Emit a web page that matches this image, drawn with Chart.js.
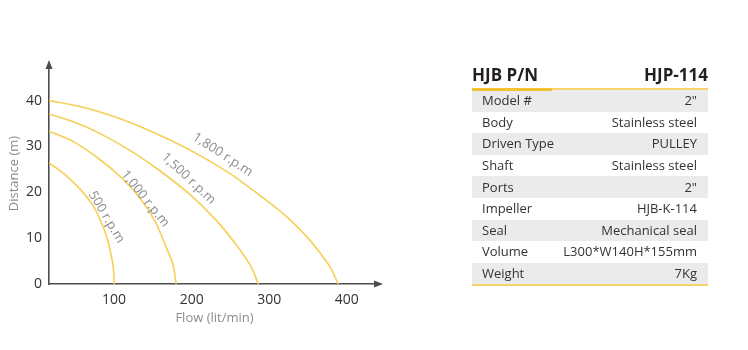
<!DOCTYPE html>
<html>
<head>
<meta charset="utf-8">
<title>HJB P/N HJP-114</title>
<script src="https://cdn.jsdelivr.net/npm/chart.js@4/dist/chart.umd.min.js"></script>
<style>
  html, body {
    margin: 0;
    padding: 0;
    background: #fff;
  }
  .page {
    position: relative;
    width: 748px;
    height: 350px;
    overflow: hidden;
    font-family: 'Open Sans', sans-serif;
  }
  #pumpChart {
    position: absolute;
    left: 0;
    top: 0;
  }
  .spec {
    position: absolute;
    left: 472px;
    top: 62px;
    width: 236px;
    color: #333;
  }
  .spec__head {
    position: relative;
    height: 26px;
    border-bottom: 2px solid #f6d36b;
    font-weight: 700;
    font-size: 17px;
    color: #231f20;
    line-height: 26px;
  }
  .spec__head::after {
    content: '';
    position: absolute;
    left: 0;
    bottom: -3px;
    width: 80px;
    height: 3px;
    background: #f2c230;
  }
  .spec__head span:last-child {
    position: absolute;
    right: 0;
    top: 0;
  }
  .spec table {
    width: 236px;
    border-collapse: collapse;
    border-bottom: 2px solid #f6d36b;
  }
  .spec td {
    height: 21.6px;
    padding: 0;
    font-size: 13px;
    line-height: 21px;
    white-space: nowrap;
  }
  .spec td:first-child {
    padding-left: 10px;
  }
  .spec td:last-child {
    text-align: right;
    padding-right: 11px;
  }
  .spec tr:nth-child(odd) td {
    background: #ebebeb;
  }
</style>
</head>
<body>
<div class="page">
  <canvas id="pumpChart" width="748" height="350"></canvas>
  <div class="spec">
    <div class="spec__head"><span>HJB P/N</span><span>HJP-114</span></div>
    <table><tbody id="specRows"></tbody></table>
  </div>
</div>

<script>
// flow (lit/min) against distance (m) for each pump speed
const flow1800 = [16, 56, 95, 134, 172, 211, 250, 288, 321, 347, 366, 380, 389];
const head1800 = [40, 38.7, 36.8, 34.3, 31.4, 28.0, 24.0, 19.3, 14.9, 10.6, 6.7, 3.3, 0];

const flow1500 = [16, 50, 82, 121, 159, 198, 230, 256, 276, 286];
const head1500 = [37.1, 35.2, 32.8, 29.1, 24.7, 19.5, 14.2, 8.9, 4.0, 0];

const flow1000 = [16, 47, 82, 108, 134, 153, 167, 176, 180];
const head1000 = [33.3, 31.1, 27.1, 23.4, 18.6, 13.6, 8.1, 4.2, 0];

const flow500 = [16, 37, 56, 72, 83, 91, 96, 99, 100];
const head500 = [26.4, 23.8, 20.7, 17.3, 13.6, 10.0, 6.4, 3.6, 0];

const speedNames = ['1,800 r.p.m', '1,500 r.p.m', '1,000 r.p.m', '500 r.p.m'];

const flowTicks = [100, 200, 300, 400];
const headTicks = [0, 10, 20, 30, 40];

const specNames = ['Model #', 'Body', 'Driven Type', 'Shaft', 'Ports', 'Impeller', 'Seal', 'Volume', 'Weight'];
const specValues = ['2"', 'Stainless steel', 'PULLEY', 'Stainless steel', '2"', 'HJB-K-114', 'Mechanical seal', 'L300*W140H*155mm', '7Kg'];

const select = {
  chartCanvas: '#pumpChart',
  specRows: '#specRows',
};

const colors = {
  curve: '#f6cf55',
  axis: '#4d4d4d',
  tick: '#333333',
  caption: '#8c8c8c',
};

// where the speed captions sit along each curve (data units) and their slant
const captionPlaces = [
  { x: 240, y: 28.2, angle: 33 },
  { x: 196, y: 23.0, angle: 43 },
  { x: 140, y: 18.6, angle: 51 },
  { x: 90, y: 14.6, angle: 59 },
];

function toPoints(xs, ys) {
  return xs.map((x, i) => ({ x: x, y: ys[i] }));
}

// axis arrows and the rotated r.p.m captions
const chartDecor = {
  id: 'chartDecor',
  afterDraw: function(chart) {
    const ctx = chart.ctx;
    const area = chart.chartArea;
    const xScale = chart.scales.x;
    const yScale = chart.scales.y;

    ctx.save();
    ctx.fillStyle = colors.axis;
    ctx.beginPath();
    ctx.moveTo(area.left, area.top - 3);
    ctx.lineTo(area.left - 3.5, area.top + 6);
    ctx.lineTo(area.left + 3.5, area.top + 6);
    ctx.closePath();
    ctx.fill();

    ctx.beginPath();
    ctx.moveTo(area.right + 3, area.bottom);
    ctx.lineTo(area.right - 6, area.bottom - 3.5);
    ctx.lineTo(area.right - 6, area.bottom + 3.5);
    ctx.closePath();
    ctx.fill();

    ctx.fillStyle = colors.caption;
    ctx.font = "13px 'Open Sans', sans-serif";
    ctx.textAlign = 'center';
    ctx.textBaseline = 'middle';
    captionPlaces.forEach(function(place, i) {
      ctx.save();
      ctx.translate(xScale.getPixelForValue(place.x), yScale.getPixelForValue(place.y));
      ctx.rotate(place.angle * Math.PI / 180);
      ctx.fillText(speedNames[i], 0, 0);
      ctx.restore();
    });
    ctx.restore();
  }
};

const app = {

  initChart: function() {
    const ctx = document.querySelector(select.chartCanvas).getContext('2d');

    Chart.defaults.font.family = "'Open Sans', sans-serif";

    const series = [
      toPoints(flow1800, head1800),
      toPoints(flow1500, head1500),
      toPoints(flow1000, head1000),
      toPoints(flow500, head500),
    ];

    // eslint-disable-next-line no-undef
    new Chart(ctx, {
      type: 'scatter',
      data: {
        datasets: series.map(function(points, i) {
          return {
            label: speedNames[i],
            data: points,
            showLine: true,
            borderColor: colors.curve,
            borderWidth: 1.6,
            pointRadius: 0,
            tension: 0.35,
          };
        })
      },
      options: {
        responsive: false,
        animation: false,
        layout: {
          padding: { top: 63, right: 368, bottom: 24, left: 0 }
        },
        plugins: {
          legend: { display: false },
          tooltip: { enabled: false },
        },
        scales: {
          x: {
            type: 'linear',
            min: 16,
            max: 443,
            afterBuildTicks: function(scale) {
              scale.ticks = flowTicks.map(v => ({ value: v }));
            },
            afterFit: function(scale) {
              scale.height = 42;
            },
            grid: { display: false, drawTicks: false },
            border: { color: colors.axis, width: 1.6 },
            ticks: { color: colors.tick, font: { size: 14 }, padding: 8 },
            title: {
              display: true,
              text: 'Flow (lit/min)',
              color: colors.caption,
              font: { size: 13 },
              padding: { top: 0, bottom: 0 },
            }
          },
          y: {
            type: 'linear',
            min: 0,
            max: 48.2,
            afterBuildTicks: function(scale) {
              scale.ticks = headTicks.map(v => ({ value: v }));
            },
            afterFit: function(scale) {
              scale.width = 49;
            },
            grid: { display: false, drawTicks: false },
            border: { color: colors.axis, width: 1.6 },
            ticks: { color: colors.tick, font: { size: 14 }, padding: 7 },
            title: {
              display: true,
              text: 'Distance (m)',
              color: colors.caption,
              font: { size: 13 },
              padding: { top: 6, bottom: 0 },
            }
          }
        }
      },
      plugins: [chartDecor],
    });
  },

  initTable: function() {
    const rows = document.querySelector(select.specRows);
    const html = [];
    for (let i = 0; i < specNames.length; i += 1) {
      html.push(`<tr><td>${specNames[i]}</td><td>${specValues[i]}</td></tr>`);
    }
    rows.innerHTML = html.join('');
  },

  start: function() {
    const thisApp = this;
    thisApp.initChart();
    thisApp.initTable();
  }

};

app.start();
</script>
</body>
</html>
